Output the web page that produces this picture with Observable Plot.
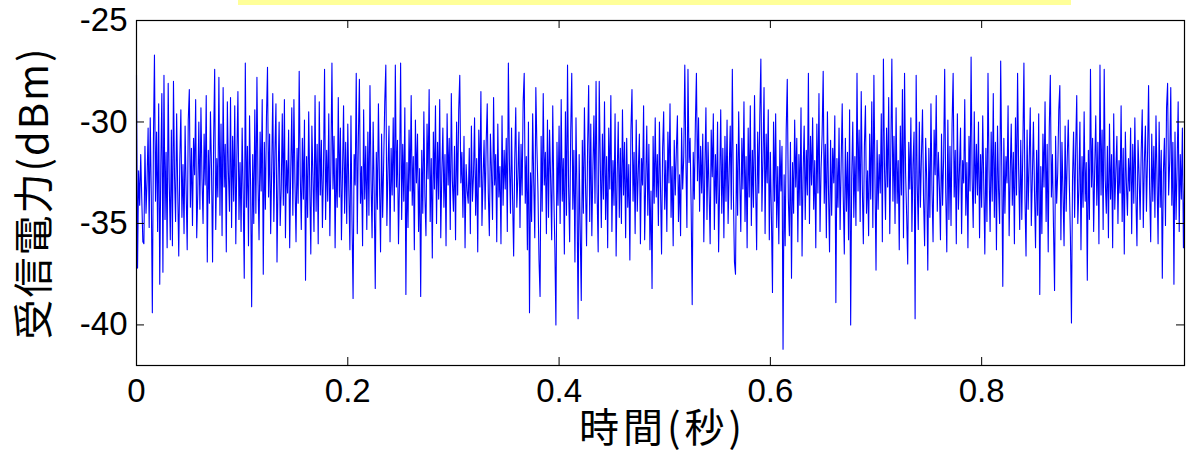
<!DOCTYPE html>
<html><head><meta charset="utf-8">
<script src="https://cdn.jsdelivr.net/npm/d3@7"></script>
<script src="https://cdn.jsdelivr.net/npm/@observablehq/plot@0.6"></script>
<style>
body{margin:0;background:#fff;}
#wrap{position:relative;width:1186px;height:462px;overflow:hidden;}
#wrap svg{position:absolute;left:0;top:0;}
.hl{position:absolute;left:238px;top:0;width:833px;height:5px;background:#ffff99;z-index:2;}
</style>
</head><body>
<div id="wrap"></div>
<script>
// sampling interval of the received-power trace (seconds)
const sampleInterval = 0.001;
// received power samples (dBm)
const power = [
-27.7,-37.2,-32.4,-34.1,-31.6,-33.8,-35.9,-36.0,-31.2,-34.5,-32.9,-30.3,-35.2,-29.8,-33.6,-39.4,-31.0,-26.7,-33.9,-30.5,
-35.4,-29.1,-38.0,-32.2,-28.6,-37.4,-27.7,-34.8,-31.5,-36.2,-28.1,-33.0,-35.8,-30.4,-36.1,-28.0,-32.7,-34.9,-29.6,-33.3,
-36.6,-31.9,-29.4,-34.7,-32.1,-35.5,-30.2,-33.4,-36.3,-29.9,-28.4,-34.2,-31.3,-35.1,-30.8,-32.6,-28.9,-35.7,-33.5,-30.0,
-34.3,-29.3,-32.8,-35.0,-30.6,-33.1,-28.7,-36.9,-31.4,-34.0,-29.5,-32.3,-36.9,-30.9,-27.4,-35.3,-31.8,-33.7,-27.8,-34.6,
-30.1,-35.6,-28.3,-33.2,-31.1,-36.4,-29.0,-32.5,-34.4,-28.8,-35.2,-30.7,-33.9,-29.2,-36.0,-31.7,-28.5,-34.8,-32.0,-35.4,
-30.3,-33.6,-37.7,-27.1,-34.2,-31.2,-36.1,-29.7,-33.1,-39.1,-31.6,-35.0,-29.4,-34.5,-27.8,-32.9,-35.8,-30.5,-33.4,-28.9,
-37.5,-31.0,-34.3,-29.8,-27.3,-33.7,-30.6,-35.5,-32.2,-28.6,-34.9,-31.5,-29.1,-36.9,-32.8,-30.0,-35.1,-33.3,-29.6,-34.1,
-28.9,-35.7,-31.9,-33.5,-30.4,-36.2,-32.4,-29.3,-34.6,-28.9,-33.0,-35.9,-31.3,-34.0,-27.5,-32.6,-35.3,-30.8,-33.8,-29.9,
-37.8,-31.7,-34.7,-29.5,-33.2,-36.5,-30.2,-32.7,-35.4,-28.7,-34.4,-31.1,-36.0,-29.0,-33.6,-30.9,-35.2,-32.3,-27.4,-34.8,
-31.4,-33.9,-29.6,-35.6,-32.1,-27.1,-33.3,-30.7,-36.2,-31.8,-34.2,-28.8,-33.7,-30.3,-35.8,-32.5,-29.2,-34.5,-31.0,-35.0,
-30.1,-33.4,-36.3,-29.7,-34.9,-38.7,-31.6,-33.1,-27.6,-35.5,-30.8,-27.9,-34.0,-32.2,-36.1,-29.4,-33.8,-31.2,-35.3,-30.5,
-34.6,-28.2,-32.9,-35.7,-30.0,-33.5,-38.2,-31.5,-34.3,-29.1,-33.0,-36.4,-30.6,-34.7,-31.9,-29.0,-27.2,-35.1,-32.4,-30.2,
-35.9,-31.3,-33.6,-29.8,-34.4,-27.2,-33.2,-30.9,-36.0,-32.7,-27.1,-34.8,-31.1,-33.9,-29.3,-38.5,-32.0,-35.2,-30.4,-33.4,
-28.7,-34.1,-31.7,-36.3,-29.9,-33.0,-30.6,-35.4,-32.3,-38.6,-31.4,-34.5,-29.5,-33.7,-35.6,-30.1,-32.8,-28.4,-34.9,-31.8,
-36.7,-30.5,-33.3,-29.2,-35.0,-31.0,-33.8,-28.9,-35.7,-32.5,-30.3,-34.2,-31.6,-36.1,-29.6,-33.1,-30.8,-35.3,-28.6,-32.9,
-34.4,-31.2,-35.8,-30.0,-33.6,-29.4,-27.7,-33.0,-31.5,-34.7,-30.7,-36.2,-32.1,-33.4,-34.0,-31.3,-35.5,-30.2,-33.9,-32.6,
-29.8,-34.6,-31.8,-36.4,-30.4,-33.2,-28.5,-35.1,-32.8,-30.9,-34.3,-31.0,-29.1,-33.5,-35.6,-30.6,-32.4,-34.8,-28.8,-33.1,
-31.6,-35.9,-30.1,-33.7,-32.2,-36.0,-29.7,-34.1,-31.4,-33.3,-30.8,-35.4,-27.1,-32.0,-34.5,-30.3,-33.8,-36.6,-31.9,-29.3,
-34.2,-32.7,-30.5,-35.2,-31.1,-33.6,-29.0,-27.6,-34.0,-31.7,-36.3,-30.0,-39.4,-32.5,-34.9,-29.6,-33.0,-35.7,-28.3,-31.2,
-33.4,-36.8,-38.6,-30.7,-34.4,-28.6,-33.1,-31.5,-35.5,-29.9,-34.7,-30.4,-32.8,-35.8,-29.2,-33.5,-36.2,-40.0,-31.0,-34.1,
-30.2,-35.0,-28.9,-33.9,-31.8,-36.5,-29.5,-34.6,-27.2,-33.2,-35.9,-30.5,-27.6,-34.3,-31.4,-36.9,-29.8,-33.7,-39.7,-31.6,
-35.3,-38.8,-30.9,-34.5,-29.3,-33.0,-36.1,-31.2,-28.2,-34.9,-30.1,-35.6,-32.3,-29.7,-34.0,-28.0,-33.5,-36.4,-28.0,-32.0,
-35.2,-30.6,-33.8,-29.0,-34.8,-31.7,-36.2,-30.3,-33.3,-28.7,-35.4,-31.9,-34.1,-29.6,-36.6,-32.6,-30.0,-34.7,-31.3,-35.0,
-29.4,-33.6,-31.0,-35.7,-30.8,-34.2,-32.1,-36.8,-30.4,-28.4,-33.9,-31.5,-35.5,-29.9,-34.4,-32.4,-30.6,-36.0,-31.8,-33.1,
-29.2,-35.8,-32.9,-30.2,-34.6,-31.1,-36.3,-33.4,-38.2,-30.7,-34.0,-29.8,-33.7,-31.6,-35.1,-30.0,-33.2,-36.5,-31.3,-29.5,
-34.3,-31.9,-35.4,-30.5,-33.0,-29.1,-34.7,-32.2,-36.1,-30.9,-33.6,-31.4,-29.7,-34.9,-32.6,-35.6,-30.3,-33.3,-31.7,-27.2,
-31.8,-35.2,-27.4,-32.0,-30.8,-34.1,-39.0,-31.5,-33.8,-30.1,-27.6,-32.9,-29.8,-34.4,-31.2,-33.5,-30.6,-35.9,-32.3,-29.3,
-34.8,-31.0,-33.4,-36.0,-30.4,-32.7,-29.6,-35.3,-31.6,-34.0,-30.0,-36.4,-33.1,-29.4,-34.5,-31.3,-35.7,-30.7,-33.9,-29.9,
-35.0,-32.4,-30.2,-34.3,-27.4,-33.6,-36.9,-37.5,-31.1,-34.6,-29.5,-32.8,-35.4,-30.8,-33.3,-29.0,-34.9,-31.7,-36.2,-30.3,
-33.7,-29.2,-35.1,-31.4,-34.2,-28.7,-32.9,-36.3,-30.5,-33.5,-29.7,-26.9,-34.4,-31.8,-28.3,-35.5,-30.6,-33.0,-29.4,-35.8,
-31.5,-34.7,-38.4,-30.0,-33.9,-29.6,-35.2,-32.2,-36.0,-30.9,-33.4,-31.2,-41.2,-32.6,-36.1,-30.4,-27.9,-33.8,-35.6,-31.0,
-37.7,-32.0,-34.5,-29.9,-33.2,-30.8,-35.9,-31.6,-34.1,-29.3,-36.6,-32.5,-30.2,-34.8,-31.4,-33.6,-27.6,-35.0,-30.7,-33.1,
-29.8,-34.3,-31.9,-36.2,-30.1,-33.5,-28.6,-35.4,-32.3,-30.6,-27.5,-34.0,-31.1,-35.7,-29.5,-33.3,-36.4,-30.9,-34.6,-31.3,
-33.0,-29.7,-38.9,-31.8,-34.2,-30.3,-35.3,-32.1,-29.1,-33.7,-36.5,-30.8,-34.4,-31.5,-35.8,-29.4,-40.0,-32.7,-30.0,-34.7,
-31.7,-35.1,-27.6,-33.4,-30.4,-34.9,-28.5,-33.1,-36.0,-31.2,-29.2,-34.5,-32.4,-35.6,-30.6,-33.8,-29.0,-35.2,-27.7,-32.8,
-37.3,-30.9,-34.3,-31.6,-33.5,-29.6,-35.9,-26.9,-32.2,-34.8,-30.3,-33.2,-28.8,-35.5,-31.4,-26.9,-33.9,-30.7,-35.0,-29.3,
-34.0,-31.9,-36.3,-30.2,-33.6,-28.4,-35.7,-27.6,-32.5,-34.6,-37.0,-31.0,-33.3,-29.8,-35.4,-32.1,-30.5,-39.7,-27.7,-33.1,
-35.3,-30.0,-34.2,-31.7,-29.4,-33.8,-36.1,-30.8,-32.9,-37.3,-31.3,-34.7,-29.1,-33.4,-35.9,-30.4,-32.6,-28.7,-34.4,-31.5,
-33.2,-35.8,-30.6,-34.1,-31.8,-27.4,-33.5,-36.4,-29.9,-34.8,-31.2,-35.1,-30.1,-27.6,-33.7,-31.4,-36.0,-29.6,-34.3,-32.3,
-30.3,-35.5,-31.9,-33.0,-28.9,-34.6,-32.0,-36.2,-30.7,-33.4,-26.8,-32.8,-35.2,-29.5,-34.0,-31.1,-33.6,-30.0,-35.7,-31.6,
-34.2,-29.7,-33.1,-36.5,-31.3,-34.9,-27.6,-32.4,-35.4,-30.5,-33.9,-28.6,-34.7,-31.0,-36.3,-30.2,-33.3,-35.0,-27.0,-32.1,
-38.1,-30.8,-34.5,-31.7,-33.0,-29.2,-35.6,-32.6,-30.1,-34.1,-31.5,-36.0,-29.8,-33.6,-27.6,-32.3,-35.3,-30.9,-34.8,-31.2,
-27.1,-33.8,-36.6,-30.4,-34.3,-31.9,-29.3,-35.1,-32.7,-30.0,-33.4,-36.2,-31.4,-34.6,-29.6,-38.5,-32.2,-35.5,-30.6,-33.2,
-29.0,-34.9,-31.1,-36.4,-30.3,-27.7,-33.7,-31.6,-35.2,-38.3,-30.7,-34.0,-32.5,-29.4,-28.2,-35.8,-31.0,-33.5,-36.1,-30.2,
-34.4,-31.8,-29.9,-33.1,-35.6,-39.9,-32.8,-30.5,-34.7,-31.3,-28.7,-35.0,-33.3,-30.0,-36.3,-31.7,-34.2,-29.5,-33.9,-32.0,
-37.8,-31.4,-34.8,-27.4,-33.2,-30.8,-35.4,-32.3,-29.7,-34.1,-31.0,-36.0,-27.2,-33.6,-30.4,-35.3,-27.4,-32.9,-34.5,-31.2,
-35.7,-30.1,-33.8,-31.6,-36.2,-29.6,-34.3,-32.4,-30.7,-35.0,-31.9,-33.5,-29.2,-34.9,-31.3,-36.5,-30.5,-33.0,-34.6,-31.8,
-33.4,-30.3,-35.5,-31.1,-34.0,-29.8,-33.7,-36.1,-30.9,-32.6,-34.8,-31.5,-29.4,-35.2,-32.0,-30.2,-34.4,-31.7,-28.2,-33.3,
-35.9,-30.6,-33.9,-31.2,-34.7,-29.7,-32.8,-36.0,-30.0,-34.2,-31.4,-37.7,-32.5,-30.8,-35.1,-29.3,-28.1,-33.6,-31.9,-28.3,
-34.1,-31.0,-38.0,-30.5,-34.8,-32.2,-29.0,-35.4,-31.6,-33.8,-30.3,-36.2,-33.0
];
const xTicks = [0, 0.2, 0.4, 0.6, 0.8];
const yTicks = [-25, -30, -35, -40];
const xDomain = [0, 0.992];
const yDomain = [-42, -25];
const xLabel = "時間(秒)";
const yLabel = "受信電力(dBm)";

const rows = power.map((v, i) => ({t: i * sampleInterval, p: v}));
const W = 1186, H = 462;
const mL = 136, mR = 2, mT = 20, mB = 97;
const tl = 8;
const fh = H - mT - mB, fw = W - mL - mR;
const tickFont = "'Liberation Sans', Arial, Helvetica, sans-serif";
const cjkFont = "'Noto Sans CJK JP', 'Noto Sans CJK SC', sans-serif";

const chart = Plot.plot({
  width: W, height: H,
  marginLeft: mL, marginRight: mR, marginTop: mT, marginBottom: mB,
  style: {background: "#fff", overflow: "visible"},
  x: {domain: xDomain},
  y: {domain: yDomain},
  marks: [
    Plot.line(rows, {x: "t", y: "p", stroke: "#0000ff", strokeWidth: 1.1}),
    Plot.frame({stroke: "#000", strokeWidth: 1.2}),
    Plot.tickX(xTicks, {x: d => d, insetTop: fh - tl, stroke: "#000"}),
    Plot.tickX(xTicks, {x: d => d, insetBottom: fh - tl, stroke: "#000"}),
    Plot.tickY(yTicks, {y: d => d, insetRight: fw - tl, stroke: "#000"}),
    Plot.tickY(yTicks, {y: d => d, insetLeft: fw - tl, stroke: "#000"}),
    Plot.axisX(xTicks, {tickSize: 0, tickPadding: 13, fontSize: 33, fontFamily: tickFont, fill: "#000", tickFormat: d => String(d), label: null}),
    Plot.axisY(yTicks, {tickSize: 0, tickPadding: 9, fontSize: 33, fontFamily: tickFont, fill: "#000", tickFormat: d => String(d), label: null}),
    Plot.text([xLabel], {frameAnchor: "bottom", textAnchor: "middle", dy: 76, dx: 2, fontSize: 40, fontFamily: cjkFont, fill: "#000"}),
    Plot.text([yLabel], {frameAnchor: "left", textAnchor: "middle", dx: -101, rotate: -90, fontSize: 40, fontFamily: cjkFont, fill: "#000"})
  ]
});
d3.select(chart).selectAll("text")
  .filter(function() { return this.textContent === xLabel; })
  .attr("letter-spacing", 4);
d3.select(chart).selectAll("text")
  .filter(function() { return this.textContent === yLabel; })
  .attr("letter-spacing", 2);
const wrap = document.getElementById("wrap");
wrap.appendChild(chart);
const hl = document.createElement("div");
hl.className = "hl";
wrap.appendChild(hl);
</script>
</body></html>
